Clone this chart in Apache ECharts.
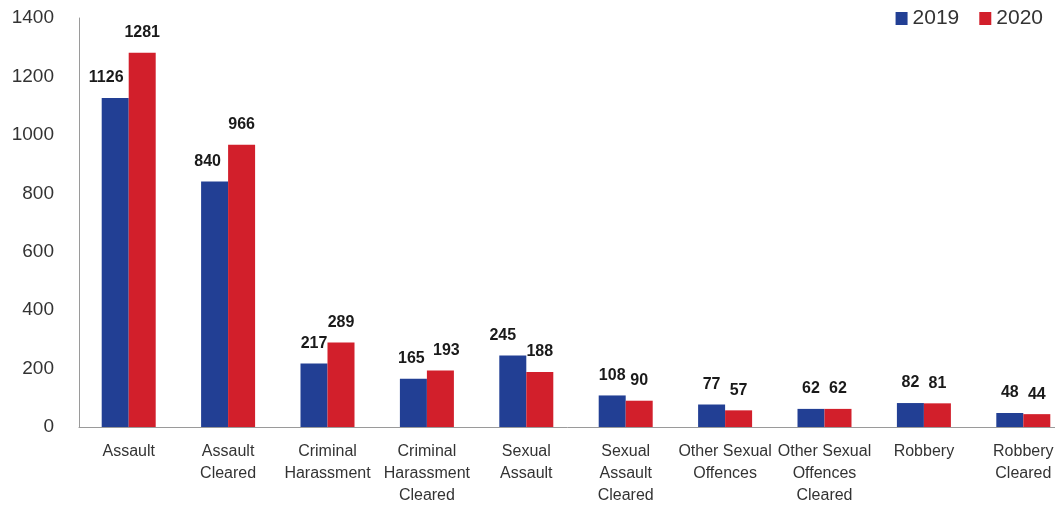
<!DOCTYPE html>
<html>
<head>
<meta charset="utf-8">
<script src="https://cdn.jsdelivr.net/npm/echarts@6/dist/echarts.min.js"></script>
<style>
  html, body { margin: 0; padding: 0; background: #fff; }
  #chart { width: 1055px; height: 506px; }
</style>
</head>
<body>
<div id="chart"></div>
<script>
// Offence categories (line breaks as printed under the axis)
const categories = [
  'Assault',
  'Assault\nCleared',
  'Criminal\nHarassment',
  'Criminal\nHarassment\nCleared',
  'Sexual\nAssault',
  'Sexual\nAssault\nCleared',
  'Other Sexual\nOffences',
  'Other Sexual\nOffences\nCleared',
  'Robbery',
  'Robbery\nCleared'
];
const values2019 = [1126, 840, 217, 165, 245, 108, 77, 62, 82, 48];
const values2020 = [1281, 966, 289, 193, 188, 90, 57, 62, 81, 44];
const yTicks = { min: 0, max: 1400, interval: 200 };

const font = '"Liberation Sans", Arial, sans-serif';
const valueLabel = {
  show: true,
  position: 'top',
  distance: 12,
  color: '#1a1a1a',
  fontWeight: 'bold',
  fontSize: 16,
  fontFamily: font
};

// sideways nudges (px) that keep neighbouring value labels apart
const nudge2019 = { 0: -9, 1: -7, 3: -2, 4: -10 };
const nudge2020 = { 3: 6 };

function withNudges(values, nudges) {
  return values.map((v, i) =>
    nudges[i] ? { value: v, label: { offset: [nudges[i], 0] } } : v
  );
}

const chart = echarts.init(document.getElementById('chart'), null, { renderer: 'canvas' });
chart.setOption({
  animation: false,
  backgroundColor: '#ffffff',
  legend: {
    top: 3,
    right: 7,
    itemWidth: 12,
    itemHeight: 13,
    itemGap: 20,
    icon: 'rect',
    textStyle: { fontSize: 21, color: '#333', fontFamily: font, padding: [0, 0, 0, 0] },
    data: ['2019', '2020']
  },
  // the plot area runs past the right edge of the canvas
  grid: { left: 79, top: 18, width: 994, height: 409, outerBoundsMode: 'none' },
  xAxis: {
    type: 'category',
    data: categories,
    axisLine: { lineStyle: { color: '#9a9a9a', width: 1 } },
    axisTick: { show: false },
    axisLabel: {
      interval: 0,
      margin: 14,
      fontSize: 16,
      lineHeight: 22,
      color: '#333',
      fontFamily: font
    }
  },
  yAxis: {
    type: 'value',
    min: yTicks.min,
    max: yTicks.max,
    interval: yTicks.interval,
    splitLine: { show: false },
    axisLine: { show: true, lineStyle: { color: '#9a9a9a', width: 1 } },
    axisTick: { show: false },
    axisLabel: {
      margin: 25,
      fontSize: 19,
      color: '#333',
      fontFamily: font,
      formatter: (v) => String(v)
    }
  },
  series: [
    {
      name: '2019',
      type: 'bar',
      data: withNudges(values2019, nudge2019),
      barWidth: 27,
      barGap: '0%',
      itemStyle: { color: '#223F94' },
      label: valueLabel
    },
    {
      name: '2020',
      type: 'bar',
      data: withNudges(values2020, nudge2020),
      barWidth: 27,
      barGap: '0%',
      itemStyle: { color: '#D21F2B' },
      label: valueLabel
    }
  ]
});
</script>
</body>
</html>
